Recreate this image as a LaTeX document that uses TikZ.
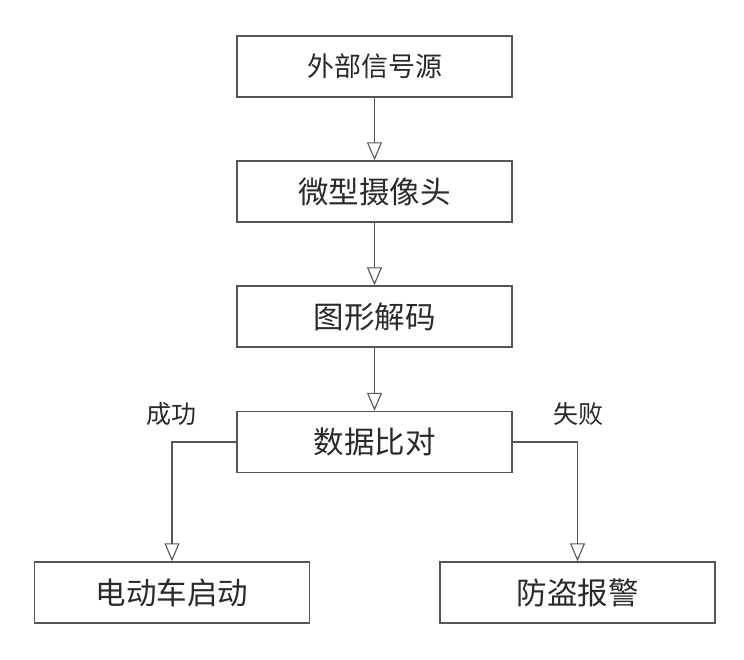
\documentclass[tikz,border=0pt]{standalone}
\usepackage{fontspec}
\newfontfamily\cjk{Noto Sans CJK SC}
\usetikzlibrary{arrows.meta}
\definecolor{ln}{HTML}{555555}
\definecolor{tx}{HTML}{2A2A2A}
\tikzset{
  box/.style={draw=ln, line width=1.4pt, minimum width=275pt, minimum height=61pt, inner sep=0pt, font=\cjk\fontsize{30.5}{31}\selectfont, text=tx},
  conn/.style={draw=ln, line width=1.3pt, -{Triangle[open, width=15pt, length=18pt, line width=1.1pt]}},
  lbl/.style={font=\cjk\fontsize{25}{26}\selectfont, text=tx, inner sep=0pt}
}
\begin{document}
\begin{tikzpicture}[x=1pt,y=-1pt]
\useasboundingbox[fill=white] (0,0) rectangle (744,660);
\node[box, font=\cjk\fontsize{27}{28}\selectfont] (a) at (374.5,66.5) {外部信号源};
\node[box] (b) at (374.5,191.5) {微型摄像头};
\node[box] (c) at (374.5,316.5) {图形解码};
\node[box] (d) at (374.5,442) {数据比对};
\node[box] (e) at (172,592.5) {电动车启动};
\node[box] (f) at (577.5,592.5) {防盗报警};
\draw[conn] (a) -- (b);
\draw[conn] (b) -- (c);
\draw[conn] (c) -- (d);
\draw[conn] (d.west) -| (e.north);
\draw[conn] (d.east) -| (f.north);
\node[lbl] (s) at (171,414) {成功};
\node[lbl] (fl) at (578,414) {失败};
\end{tikzpicture}
\end{document}
